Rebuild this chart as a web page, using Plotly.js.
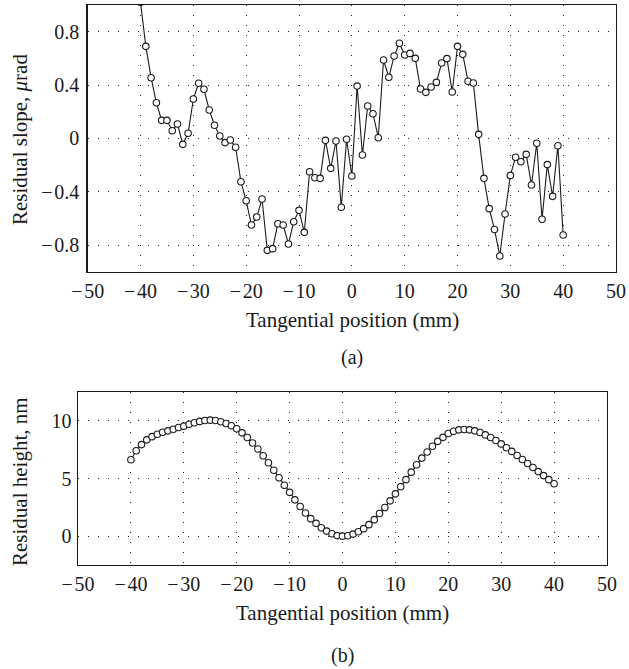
<!DOCTYPE html>
<html>
<head>
<meta charset="utf-8">
<script src="https://cdn.plot.ly/plotly-3.0.1.min.js"></script>
<style>html,body{margin:0;padding:0;background:#fff;}#chart{width:629px;height:669px;}</style>
</head>
<body>
<div id="chart"></div>
<script>
// Tangential positions (mm)
const positions = [-40,-39,-38,-37,-36,-35,-34,-33,-32,-31,-30,-29,-28,-27,-26,-25,-24,-23,-22,-21,-20,-19,-18,-17,-16,-15,-14,-13,-12,-11,-10,-9,-8,-7,-6,-5,-4,-3,-2,-1,0,1,2,3,4,5,6,7,8,9,10,11,12,13,14,15,16,17,18,19,20,21,22,23,24,25,26,27,28,29,30,31,32,33,34,35,36,37,38,39,40];

// (a) Residual slope, µrad
const residualSlope = [1.02,0.69,0.455,0.267,0.135,0.135,0.057,0.108,-0.045,0.038,0.295,0.413,0.368,0.213,0.098,0.018,-0.032,-0.012,-0.067,-0.325,-0.468,-0.65,-0.59,-0.455,-0.84,-0.827,-0.64,-0.65,-0.792,-0.625,-0.54,-0.705,-0.25,-0.295,-0.30,-0.015,-0.225,-0.02,-0.517,-0.007,-0.282,0.392,-0.125,0.243,0.185,0.005,0.587,0.458,0.617,0.713,0.625,0.637,0.6,0.37,0.345,0.385,0.42,0.565,0.598,0.348,0.69,0.63,0.428,0.415,0.03,-0.30,-0.527,-0.683,-0.882,-0.567,-0.278,-0.142,-0.175,-0.12,-0.35,-0.037,-0.607,-0.197,-0.435,-0.055,-0.725];

// (b) Residual height, nm
const residualHeight = [6.62,7.41,7.94,8.35,8.63,8.84,9.01,9.13,9.27,9.42,9.54,9.71,9.83,9.95,10.03,10.06,10.03,9.92,9.77,9.57,9.31,8.96,8.55,8.08,7.56,6.97,6.36,5.72,5.07,4.41,3.80,3.15,2.57,2.01,1.52,1.11,0.73,0.44,0.21,0.05,0.0,0.04,0.18,0.38,0.65,1.0,1.43,1.96,2.48,3.06,3.67,4.29,4.90,5.55,6.19,6.77,7.3,7.79,8.22,8.57,8.9,9.1,9.22,9.25,9.22,9.13,8.99,8.78,8.55,8.29,8.0,7.67,7.35,7.0,6.65,6.3,5.95,5.6,5.25,4.9,4.55];

// Tick values and labels
const xTicks = [-50,-40,-30,-20,-10,0,10,20,30,40,50];
const xTickText = ['\u2212\u200a50','\u2212\u200a40','\u2212\u200a30','\u2212\u200a20','\u2212\u200a10','0','10','20','30','40','50'];
const slopeTicks = [-0.8,-0.4,0,0.4,0.8];
const slopeTickText = ['\u2212\u200a0.8','\u2212\u200a0.4','0','0.4','0.8'];
const heightTicks = [0,5,10];
const heightTickText = ['0','5','10'];

const W = 629, H = 669;
const FONT = 'Liberation Serif, Times New Roman, serif';
const INK = '#1a1a1a';

const markerStyle = {symbol:'circle', size:6.5, color:'#ffffff', line:{color:INK, width:1.1}};

const traces = [
  {x: positions, y: residualSlope, xaxis:'x', yaxis:'y', type:'scatter', mode:'lines+markers',
   line:{color:INK, width:1.1}, marker:markerStyle, showlegend:false, hoverinfo:'x+y'},
  {x: positions, y: residualHeight, xaxis:'x2', yaxis:'y2', type:'scatter', mode:'lines+markers',
   line:{color:INK, width:1.1}, marker:markerStyle, showlegend:false, hoverinfo:'x+y'}
];

function axisBase(){
  return {
    showgrid:true, gridcolor:'#222', gridwidth:1, griddash:'1px,9px',
    zeroline:false, showline:true, mirror:true, linecolor:INK, linewidth:1.4,
    ticks:'', tickfont:{family:FONT, size:20, color:INK}, fixedrange:true
  };
}

const xa1 = Object.assign(axisBase(), {domain:[87.7/W, 616/W], anchor:'y', range:[-50,50], tickmode:'array', tickvals:xTicks, ticktext:xTickText, ticklabelstandoff:1});
const ya1 = Object.assign(axisBase(), {domain:[1-271.7/H, 1-5/H], anchor:'x', range:[-1,1], tickmode:'array', tickvals:slopeTicks, ticktext:slopeTickText, ticklabelstandoff:3});
const xa2 = Object.assign(axisBase(), {domain:[78/W, 607/W], anchor:'y2', range:[-50,50], tickmode:'array', tickvals:xTicks, ticktext:xTickText, ticklabelstandoff:1});
const ya2 = Object.assign(axisBase(), {domain:[1-565/H, 1-392/H], anchor:'x2', range:[-2.5,12.5], tickmode:'array', tickvals:heightTicks, ticktext:heightTickText, ticklabelstandoff:1});

function ann(text, xpx, ypx, angle, size){
  return {text:text, xref:'paper', yref:'paper', x:xpx/W, y:1-ypx/H, xanchor:'center', yanchor:'middle',
          showarrow:false, textangle:angle||0, font:{family:FONT, size:size||21, color:INK}};
}

const layout = {
  width:W, height:H,
  margin:{l:0, r:0, t:0, b:0},
  paper_bgcolor:'#ffffff', plot_bgcolor:'#ffffff',
  font:{family:FONT, size:20, color:INK},
  xaxis:xa1, yaxis:ya1, xaxis2:xa2, yaxis2:ya2,
  showlegend:false,
  annotations:[
    ann('Residual slope, <i>\u03bc</i>rad', 20, 140, -90, 21),
    ann('Tangential position (mm)', 352, 320, 0, 21),
    ann('(a)', 352, 358, 0, 20),
    ann('Residual height, nm', 20, 482, -90, 21),
    ann('Tangential position (mm)', 342, 613, 0, 21),
    ann('(b)', 342, 655, 0, 20)
  ]
};

Plotly.newPlot('chart', traces, layout, {staticPlot:true, displayModeBar:false});
</script>
</body>
</html>
